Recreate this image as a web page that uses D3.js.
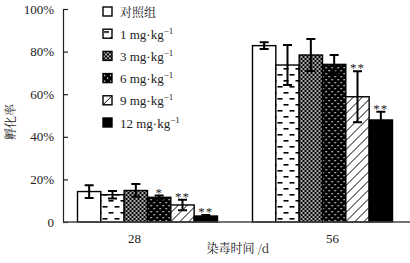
<!DOCTYPE html>
<html>
<head>
<meta charset="utf-8">
<script src="https://cdn.jsdelivr.net/npm/d3@7"></script>
<style>
  body { margin: 0; background: #fff; }
  svg text { font-family: "Liberation Serif", "Times New Roman", serif; fill: #222; }
</style>
</head>
<body>
<svg id="chart"></svg>
<script>
// Data (hatch rate in %, mean and error)
const days = ['28', '56'];
const groups = ['对照组', '1', '3', '6', '9', '12'];
const means = {
  '28': [14.3, 12.8, 14.8, 11.6, 8.0, 2.8],
  '56': [82.8, 73.7, 78.4, 74.0, 58.8, 47.9]
};
const errs = {
  '28': [3.0, 1.8, 3.0, 0.8, 2.5, 0.5],
  '56': [1.6, 9.4, 7.5, 4.4, 12.0, 3.9]
};
const marks = {
  '28': ['', '', '', '*', '**', '**'],
  '56': ['', '', '', '', '**', '**']
};
const yTicks = [0, 20, 40, 60, 80, 100];

const width = 410, height = 263;
const margin = {top: 9, right: 0, bottom: 41, left: 63};
const serif = '"Liberation Serif", "Times New Roman", serif';
const cjk = '"Noto Serif CJK SC", "Noto Sans CJK SC", serif';

let svg = d3.select('#chart')
    .attr('width', width)
    .attr('height', height);

// patterns for the dose groups
const defs = svg.append('defs');

let p1 = defs.append('pattern').attr('id', 'pat1')
    .attr('patternUnits', 'userSpaceOnUse').attr('width', 12).attr('height', 12);
p1.append('rect').attr('width', 12).attr('height', 12).attr('fill', '#fff');
p1.append('rect').attr('x', 1).attr('y', 2).attr('width', 5).attr('height', 1.6).attr('fill', '#000');
p1.append('rect').attr('x', 7).attr('y', 8).attr('width', 5).attr('height', 1.6).attr('fill', '#000');

let p3 = defs.append('pattern').attr('id', 'pat3')
    .attr('patternUnits', 'userSpaceOnUse').attr('width', 4).attr('height', 4);
p3.append('rect').attr('width', 4).attr('height', 4).attr('fill', '#000');
p3.append('circle').attr('cx', 1).attr('cy', 1).attr('r', 0.9).attr('fill', '#fff');
p3.append('circle').attr('cx', 3).attr('cy', 3).attr('r', 0.9).attr('fill', '#fff');

let p6 = defs.append('pattern').attr('id', 'pat6')
    .attr('patternUnits', 'userSpaceOnUse').attr('width', 6).attr('height', 6);
p6.append('rect').attr('width', 6).attr('height', 6).attr('fill', '#000');
p6.append('rect').attr('x', 1).attr('y', 1).attr('width', 1.3).attr('height', 1.3).attr('fill', '#fff');
p6.append('rect').attr('x', 4).attr('y', 4).attr('width', 1.3).attr('height', 1.3).attr('fill', '#fff');

let p9 = defs.append('pattern').attr('id', 'pat9')
    .attr('patternUnits', 'userSpaceOnUse').attr('width', 9).attr('height', 9);
p9.append('rect').attr('width', 9).attr('height', 9).attr('fill', '#fff');
p9.append('path').attr('d', 'M0,9 L9,0 M-2,2 L2,-2 M7,11 L11,7')
    .attr('stroke', '#000').attr('stroke-width', 1);

const fills = ['#fff', 'url(#pat1)', 'url(#pat3)', 'url(#pat6)', 'url(#pat9)', '#000'];

// scales
let x0 = d3.scaleBand()
    .domain(days)
    .range([60, width])
    .paddingInner(0.2)
    .paddingOuter(0.1);

let x1 = d3.scaleBand()
    .domain(groups)
    .range([0, x0.bandwidth()])
    .padding(0);

let y = d3.scaleLinear()
    .domain([0, 100])
    .range([height - margin.bottom, margin.top]);

// y axis
let yAxis = svg.append('g')
    .attr('transform', 'translate(' + margin.left + ',0)')
    .call(d3.axisLeft(y).tickValues(yTicks).tickSizeInner(-5).tickSizeOuter(0)
        .tickPadding(9).tickFormat(d => d === 0 ? '0' : d + '%'));
yAxis.attr('font-family', null);
yAxis.select('.domain').attr('stroke', '#222').attr('stroke-width', 1.2);
yAxis.selectAll('.tick line').attr('stroke', '#222').attr('stroke-width', 1.2);
yAxis.selectAll('text').style('font-size', '13px').style('font-family', serif).attr('fill', '#222');

// bars
let groupG = svg.selectAll('.day')
    .data(days)
    .enter()
    .append('g')
    .attr('class', 'day')
    .attr('transform', d => 'translate(' + x0(d) + ',0)');

let bars = groupG.selectAll('.bar')
    .data(d => groups.map((g, i) => ({g: g, i: i, v: means[d][i], e: errs[d][i], m: marks[d][i]})))
    .enter()
    .append('g')
    .attr('class', 'bar');

bars.append('rect')
    .attr('x', d => x1(d.g))
    .attr('y', d => y(d.v))
    .attr('width', x1.bandwidth())
    .attr('height', d => y(0) - y(d.v))
    .attr('fill', d => fills[d.i])
    .attr('stroke', '#000')
    .attr('stroke-width', 1.4);

// error bars
const cap = 4.5;
bars.append('path')
    .attr('d', d => {
        let cx = x1(d.g) + x1.bandwidth() / 2;
        let t = y(d.v + d.e), b = y(d.v - d.e);
        return 'M' + cx + ',' + t + 'V' + b +
            'M' + (cx - cap) + ',' + t + 'H' + (cx + cap) +
            'M' + (cx - cap) + ',' + b + 'H' + (cx + cap);
    })
    .attr('stroke', '#000')
    .attr('stroke-width', 2)
    .attr('fill', 'none');

// significance marks
bars.append('text')
    .attr('x', d => x1(d.g) + x1.bandwidth() / 2)
    .attr('y', d => y(d.v + d.e) + 1)
    .attr('text-anchor', 'middle')
    .style('font-family', serif)
    .style('font-size', '13px')
    .style('letter-spacing', '1px')
    .attr('fill', '#333')
    .text(d => d.m);

// x axis
let xAxis = svg.append('g')
    .attr('transform', 'translate(0,' + y(0) + ')')
    .call(d3.axisBottom(x0).tickSize(0).tickPadding(12));
xAxis.attr('font-family', null);
xAxis.select('.domain').attr('d', 'M' + margin.left + ',0H' + width)
    .attr('stroke', '#444').attr('stroke-width', 1.4);
const labelShift = [-13, 10];
xAxis.selectAll('text')
    .style('font-size', '13px')
    .style('font-family', serif)
    .attr('fill', '#222')
    .attr('dx', (d, i) => labelShift[i]);

// axis titles
svg.append('text')
    .attr('x', 238)
    .attr('y', 253)
    .attr('text-anchor', 'middle')
    .style('font-size', '12px')
    .style('font-family', cjk)
    .text('染毒时间 /d');

svg.append('text')
    .attr('transform', 'translate(15,' + y(47) + ') rotate(-90)')
    .attr('text-anchor', 'middle')
    .style('font-size', '12px')
    .style('font-family', cjk)
    .text('孵化率');

// legend
let legend = svg.append('g').attr('transform', 'translate(103,7)');
let item = legend.selectAll('.item')
    .data(groups)
    .enter()
    .append('g')
    .attr('class', 'item')
    .attr('transform', (d, i) => 'translate(0,' + (i * 22.2) + ')');

item.append('rect')
    .attr('width', 9)
    .attr('height', 9)
    .attr('fill', (d, i) => fills[i])
    .attr('stroke', '#000')
    .attr('stroke-width', 1.4);

let lt = item.append('text')
    .attr('x', 17)
    .attr('y', 9.5)
    .style('font-family', serif)
    .style('font-size', '13px');
lt.filter((d, i) => i === 0)
    .style('font-family', cjk)
    .style('font-size', '12px')
    .text(d => d);
lt.filter((d, i) => i > 0).each(function(d) {
    let t = d3.select(this);
    t.append('tspan').text(d + ' mg·kg');
    t.append('tspan').attr('dy', -5).style('font-size', '9px').text('−1');
});
</script>
</body>
</html>
